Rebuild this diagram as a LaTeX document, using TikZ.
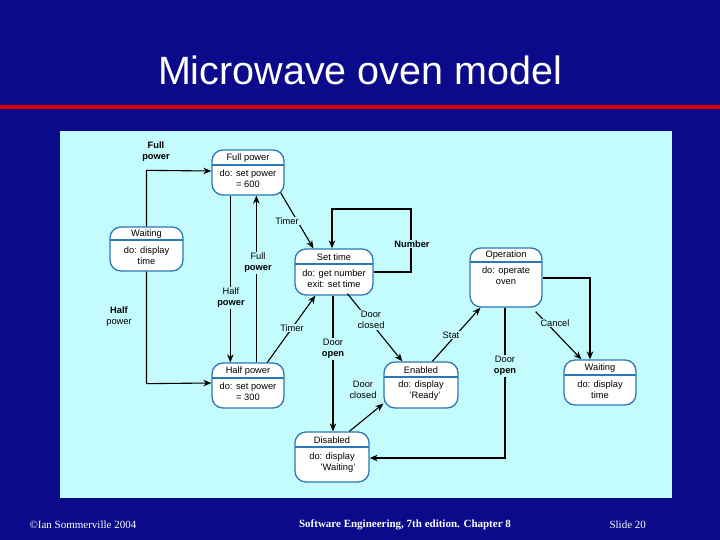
\documentclass[tikz,border=0pt]{standalone}
\usepackage{fontspec}
\setmainfont{Liberation Sans}
\newfontfamily\serifft{Liberation Serif}
\usetikzlibrary{arrows.meta,calc}
\definecolor{bgblue}{HTML}{0A0A8A}
\definecolor{panel}{HTML}{C4FBFD}
\definecolor{stborder}{HTML}{2C78B4}
\tikzset{
 state/.style={draw=stborder,line width=1.3pt,fill=white,rounded corners=11pt,inner sep=0pt},
 divl/.style={draw=stborder,line width=1.2pt},
 stx/.style={font=\fontsize{9.3}{11}\selectfont,align=center,inner sep=0pt},
 lbl/.style={font=\fontsize{9.3}{11}\selectfont,align=center,inner sep=1pt,fill=panel},
 arr/.style={line width=1.1pt,-{Stealth[length=8pt,width=6.5pt]}},
}
\newcommand\mkstate[9]{% name,x1,y1,x2,y2,divy,title,body,bodyy
 \node[state,minimum width={(#4-#2)*1pt},minimum height={(#5-#3)*1pt}] (#1) at ({(#2+#4)/2},{(#3+#5)/2}) {};
 \draw[divl] (#2,#6) -- (#4,#6);
 \node[stx] at ({(#2+#4)/2},{(#3+#6)/2+0.5}) {#7};
 \node[stx] at ({(#2+#4)/2},#9) {#8};
}
\begin{document}
\begin{tikzpicture}[x=1pt,y=-1pt]
\useasboundingbox (0,0) rectangle (720,540);
\fill[bgblue] (0,0) rectangle (720,540);
\node[text=white,font=\fontsize{39.5}{46}\selectfont] (title) at (360,70) {Microwave oven model};
\fill[red!85!black] (0,105.5) rectangle (720,109);
\fill[panel] (60,131) rectangle (672,498);
\mkstate{fp}{212}{150}{284}{195}{165}{Full power}{do: set power\\= 600}{179}
\mkstate{wl}{110}{227}{183}{271}{240}{Waiting}{do: display\\time}{256}
\mkstate{st}{295}{249}{373}{295}{264}{Set time}{do: get number\\exit: set time}{279}
\mkstate{op}{470}{248}{542}{307}{262}{Operation}{do: operate\\oven}{276}
\mkstate{hp}{212}{363}{284}{408}{378}{Half power}{do: set power\\= 300}{392}
\mkstate{en}{384}{362}{458}{408}{377}{Enabled}{do: display\\\hspace*{8pt}'Ready'}{391}
\mkstate{wr}{564}{360}{636}{405}{375}{Waiting}{do: display\\time}{390}
\mkstate{di}{295}{432}{369}{482}{447}{Disabled}{do: display\\\hspace*{12pt}'Waiting'}{463}
% Waiting -> Full power / Half power
\draw[arr] (wl.north) -- ++(0,-56) -- (fp.west|-0,171);
\node[lbl,font=\fontsize{9.3}{11}\selectfont\bfseries] (l1) at (156,152) {Full\\power};
\draw[arr] (wl.south) -- ++(0,112) -- (hp.west|-0,383);
\node[lbl] (l2) at (119,317) {\textbf{Half}\\power};
% Full <-> Half
\draw[arr] ([xshift=19pt]fp.south west) -- ([xshift=19pt]hp.north west);
\node[lbl] (l3) at (231,298) {Half\\\textbf{power}};
\draw[arr] ([xshift=45pt]hp.north west) -- ([xshift=45pt]fp.south west);
\node[lbl] (l4) at (258,263) {Full\\\textbf{power}};
% Timers
\draw[arr] ([shift={(-4pt,3pt)}]fp.south east) -- ([xshift=19pt]st.north west);
\node[lbl] (l5) at (287,221) {Timer};
\draw[arr] ([xshift=56pt]hp.north west) -- ([xshift=21pt]st.south west);
\node[lbl] (l6) at (292,328) {Timer};
% Number loop
\draw[arr] (st.east|-0,272) -- (411,272) -- (411,209) -- (332,209) -- (st.north-|332,0);
\node[lbl,font=\fontsize{9.3}{11}\selectfont\bfseries] (l7) at (412,244) {Number};
% Door open / closed
\draw[arr] (st.south-|333,0) -- (di.north-|333,0);
\node[lbl] (l8) at (333,349) {Door\\\textbf{open}};
\draw[arr] ([xshift=53pt,yshift=2pt]st.south west) -- ([xshift=19pt]en.north west);
\node[lbl] (l9) at (371,320) {Door\\closed};
\draw[arr] ([xshift=55pt]di.north west) -- ([yshift=5pt]en.south west);
\node[lbl] (l10) at (363,390) {Door\\closed};
% Start
\draw[arr] ([xshift=49pt]en.north west) -- ([xshift=11pt]op.south west);
\node[lbl] (l11) at (451,335) {Stat};
% Operation -> Disabled
\draw[arr] (op.south-|505,0) -- (505,458) -- (di.east|-0,458);
\node[lbl] (l12) at (505,366) {Door\\\textbf{open}};
% Operation -> Waiting
\draw[arr] (op.east|-0,278) -- (590,278) -- (wr.north-|590,0);
\draw[arr] ([shift={(-7pt,-4pt)}]op.south east) -- ([xshift=18pt]wr.north west);
\node[lbl] (l13) at (555,323) {Cancel};
% footer
\node[text=white,font=\serifft\fontsize{11}{13}\selectfont,anchor=west] (f1) at (26,525) {©Ian Sommerville 2004};
\node[text=white,font=\serifft\bfseries\fontsize{11}{13}\selectfont] (f2) at (405,525) {Software Engineering, 7th edition. Chapter 8};
\node[text=white,font=\serifft\fontsize{11}{13}\selectfont,anchor=west] (f3) at (606,525) {Slide 20};
\end{tikzpicture}
\end{document}
